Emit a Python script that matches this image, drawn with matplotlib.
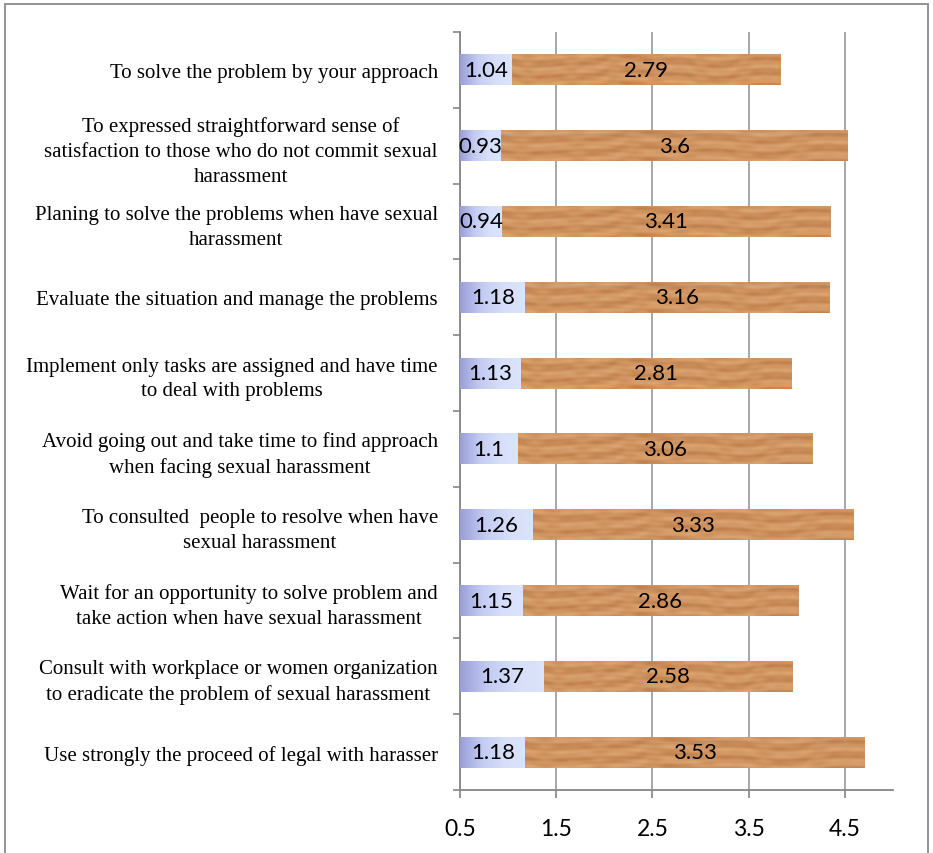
import numpy as np
import matplotlib
matplotlib.use('Agg')
import matplotlib.pyplot as plt
from matplotlib.colors import LinearSegmentedColormap
from matplotlib.patches import Rectangle

# categories listed top to bottom
categories = [
    'To solve the problem by your approach',
    'To expressed straightforward sense of\nsatisfaction to those who do not commit sexual\nharassment',
    'Planing to solve the problems when have sexual\nharassment',
    'Evaluate the situation and manage the problems',
    'Implement only tasks are assigned and have time\nto deal with problems',
    'Avoid going out and take time to find approach\nwhen facing sexual harassment',
    'To consulted  people to resolve when have\nsexual harassment',
    'Wait for an opportunity to solve problem and\ntake action when have sexual harassment',
    'Consult with workplace or women organization\nto eradicate the problem of sexual harassment',
    'Use strongly the proceed of legal with harasser',
]
first = [1.04, 0.93, 0.94, 1.18, 1.13, 1.1, 1.26, 1.15, 1.37, 1.18]
second = [2.79, 3.6, 3.41, 3.16, 2.81, 3.06, 3.33, 2.86, 2.58, 3.53]
xticks = [0.5, 1.5, 2.5, 3.5, 4.5]

xmin, xmax = 0.5, 5.0
bar_h = 0.41

fig = plt.figure(figsize=(9.33, 8.54), dpi=100)
ax = fig.add_axes([460/933, 1-791/854, (893-460)/933, (791-33)/854])

y = np.arange(len(categories))

# lavender-to-pale gradient for the first segment
blue_cmap = LinearSegmentedColormap.from_list('lav', ['#9a9ed8', '#c3cbf2', '#d6defa', '#dce4fb'])
grad = np.linspace(0, 1, 256).reshape(1, -1)

# soft wood grain for the second segment
wood_cmap = LinearSegmentedColormap.from_list('wood', ['#a0622f', '#bd7d49', '#cf9360', '#dba672'])
gx = np.linspace(0, 1, 600)
gy = np.linspace(0, 1, 40)
GX, GY = np.meshgrid(gx, gy)
band = np.sin(2*np.pi*(2.3*GY + 0.25*np.sin(2*np.pi*1.7*GX) + 0.1*np.sin(2*np.pi*4.1*GX + 0.7)))
blot = 0.5 + 0.5*np.sin(2*np.pi*9.3*GX + 1.3) * np.sin(2*np.pi*3.1*GX + 0.4)
wood = 0.68 + 0.32*band*blot + 0.07*np.sin(2*np.pi*(6.0*GY + 0.3*np.sin(2*np.pi*2.9*GX)))
wood = np.clip(wood, 0, 1)

for i in range(len(categories)):
    v1, v2 = first[i], second[i]
    b1 = ax.barh(y[i], v1, height=bar_h, color='#d6defa', zorder=2)[0]
    b2 = ax.barh(y[i], v2, left=v1, height=bar_h, color='#c98b57', zorder=2)[0]
    im1 = ax.imshow(grad, extent=[xmin, v1, y[i]-bar_h/2, y[i]+bar_h/2], aspect='auto',
                    cmap=blue_cmap, zorder=3, interpolation='bilinear')
    im1.set_clip_path(b1)
    im2 = ax.imshow(wood, extent=[v1, v1+v2, y[i]-bar_h/2, y[i]+bar_h/2], aspect='auto',
                    cmap=wood_cmap, vmin=0, vmax=1, zorder=3, interpolation='bilinear')
    im2.set_clip_path(b2)
    ax.text((xmin+v1)/2, y[i], f'{v1:g}', ha='center', va='center', fontsize=16,
            family='Lato', zorder=4)
    ax.text(v1+v2/2, y[i], f'{v2:g}', ha='center', va='center', fontsize=16,
            family='Lato', zorder=4)

ax.set_xlim(xmin, xmax)
ax.set_ylim(len(categories)-0.5, -0.5)

ax.set_xticks(xticks)
ax.set_xticklabels([f'{t:g}' for t in xticks], fontsize=16.5, family='Lato')
ax.tick_params(axis='x', length=6, width=1.2, color='#868686', pad=14)

ax.set_yticks(y)
ax.set_yticklabels(categories, fontsize=15, family='Liberation Serif',
                   multialignment='center', linespacing=1.4)
ax.tick_params(axis='y', which='major', length=0, pad=16)
ax.set_yticks(np.arange(len(categories)+1)-0.5, minor=True)
ax.tick_params(axis='y', which='minor', length=5, width=1.2, color='#868686')

ax.grid(axis='x', color='#a0a0a0', linewidth=1.3, zorder=0)
ax.set_axisbelow(True)
for s in ['top', 'right']:
    ax.spines[s].set_visible(False)
for s in ['left', 'bottom']:
    ax.spines[s].set_color('#868686')
    ax.spines[s].set_linewidth(1.3)

fig.add_artist(Rectangle((5/933, -0.1), 923/933, 1.1-5/854, transform=fig.transFigure,
                         fill=False, edgecolor='#8a8a8a', linewidth=1.3))

fig.savefig('out.png', dpi=100)
